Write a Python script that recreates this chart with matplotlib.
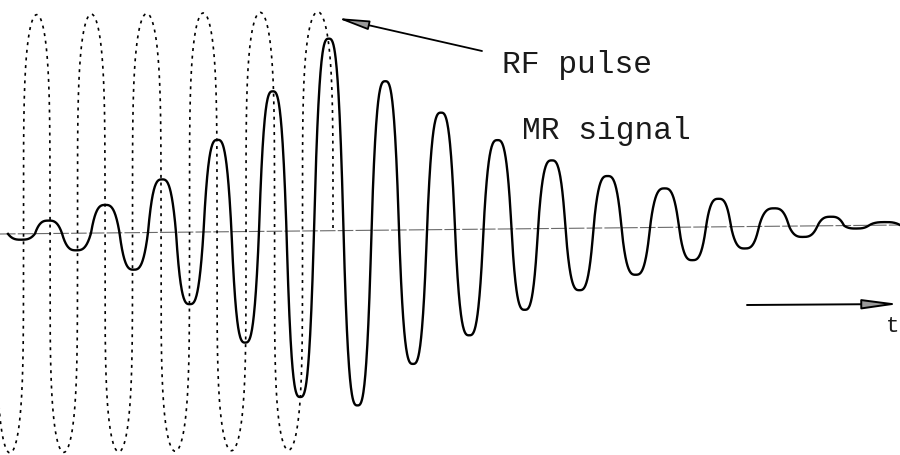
import numpy as np
import matplotlib
matplotlib.use("Agg")
import matplotlib.pyplot as plt
from matplotlib.transforms import Affine2D

# --- data -------------------------------------------------------------
# RF pulse: centres of its half-cycles (time, a.u.) and signed amplitudes
rf_lobe_t = [10, 37, 63, 92, 118, 147, 175, 204, 230, 262, 287, 318]
rf_lobe_amp = [-1, 1, -1, 1, -1, 1, -1, 1, -1, 1, -1, 1]
rf_start, rf_end = -3.5, 333

# MR signal: centres of its half-cycles and signed extreme values
mr_lobe_t = [22, 48, 76, 106, 133, 163, 189, 218, 245, 273, 300, 328,
             359, 384, 414, 440, 470, 497, 526, 550, 581, 606, 637, 663,
             695, 717, 745, 773, 805, 830, 858, 880]
mr_lobe_amp = [-0.027, 0.059, -0.078, 0.128, -0.169, 0.242, -0.329, 0.420,
               -0.507, 0.639, -0.758, 0.877, -0.799, 0.680, -0.612, 0.534,
               -0.484, 0.406, -0.370, 0.311, -0.283, 0.237, -0.215, 0.178,
               -0.151, 0.128, -0.100, 0.082, -0.050, 0.041, -0.014, 0.014]
mr_start, mr_end = 8, 900

t_range = (0, 900)


def lobes(centres, amps, start, end, a, b, n=120):
    """Chain superelliptic half-cycle lobes (|w|^a + |y|^b = 1) whose
    zero crossings sit midway between neighbouring centres."""
    c = np.asarray(centres, float)
    bounds = np.concatenate([[start], (c[:-1] + c[1:]) / 2, [end]])
    xs, ys = [], []
    for i, amp in enumerate(amps):
        # denser sampling near the lobe edges where the curve is steep
        s = np.linspace(-1, 1, n)
        w = np.sin(s * np.pi / 2)
        shape = np.clip(1 - np.abs(w) ** a, 0, None) ** (1 / b)
        mid = (bounds[i] + bounds[i + 1]) / 2
        half = (bounds[i + 1] - bounds[i]) / 2
        xs.append(mid + w * half)
        ys.append(amp * shape)
    return np.concatenate(xs), np.concatenate(ys)


# --- figure -----------------------------------------------------------
fig = plt.figure(figsize=(9, 4.56), dpi=100)
ax = fig.add_axes([0, 0, 1, 1])
ax.set_xlim(*t_range)
ax.set_ylim(-221 / 219, 235 / 219)
ax.set_axis_off()

# the plotted record rises slightly towards the right
tilt = 0.041 / 900
tr = Affine2D(np.array([[1, 0, 0], [tilt, 1, 0], [0, 0, 1]])) + ax.transData

# time axis
ax.plot(t_range, [0, 0], color="#6a6a6a", lw=0.8,
        linestyle=(0, (14, 2)), transform=tr, zorder=1)

# RF pulse (dashed)
x_rf, y_rf = lobes(rf_lobe_t, rf_lobe_amp, rf_start, rf_end, a=2.0, b=4.5)
ax.plot(x_rf, y_rf, color="black", lw=1.2, linestyle=(0, (1.8, 2.8)),
        transform=tr, zorder=2)

# MR signal
x_mr, y_mr = lobes(mr_lobe_t, mr_lobe_amp, mr_start, mr_end, a=3.0, b=1.0)
ax.plot(x_mr, y_mr, color="black", lw=1.7, transform=tr, zorder=3,
        solid_joinstyle="round")

# labels
H = 456
txt = dict(family="Liberation Mono", fontsize=22.5, color="#1a1a1a",
           va="baseline", ha="left")
fig.text(502 / 900, (H - 73) / H, "RF pulse", **txt)
fig.text(522 / 900, (H - 139) / H, "MR signal", **txt)

# pointer to the RF pulse
ax.annotate("", xy=(337, H - 19), xycoords="figure pixels",
            xytext=(482, H - 52), textcoords="figure pixels",
            arrowprops=dict(arrowstyle="-|>,head_length=1.9,head_width=0.28",
                            mutation_scale=10, lw=1.3, color="black",
                            fc="#9a9a9a", shrinkA=0, shrinkB=0))

# time arrow
ax.annotate("", xy=(899, H - 305), xycoords="figure pixels",
            xytext=(747, H - 306), textcoords="figure pixels",
            arrowprops=dict(arrowstyle="-|>,head_length=2.2,head_width=0.3",
                            mutation_scale=10, lw=1.4, color="black",
                            fc="#9a9a9a", shrinkA=0, shrinkB=0))
fig.text(899 / 900, (H - 327) / H, "t", family="Liberation Mono",
         fontsize=16, color="#1a1a1a", va="center", ha="right")

fig.savefig("out.png", dpi=100, facecolor="white")
